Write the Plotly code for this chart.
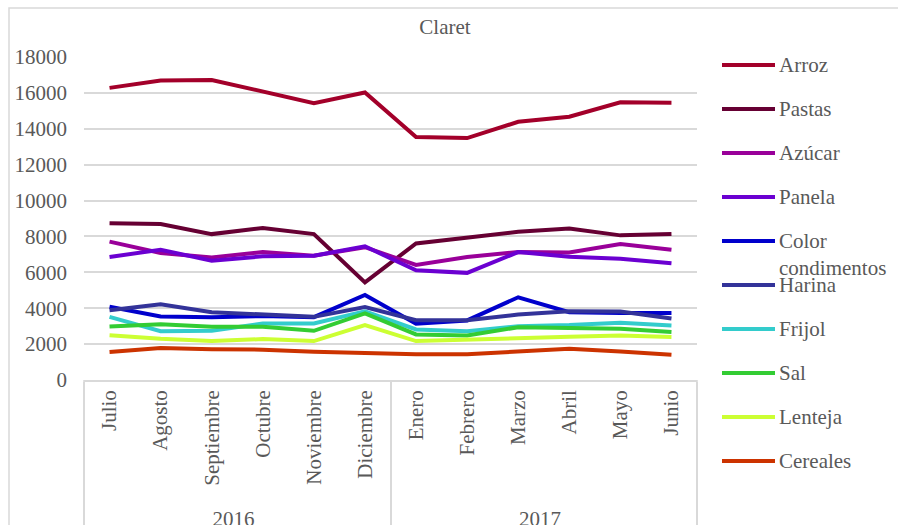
import plotly.graph_objects as go

# Months (Julio 2016 - Junio 2017)
months = ["Julio", "Agosto", "Septiembre", "Octubre", "Noviembre", "Diciembre",
          "Enero", "Febrero", "Marzo", "Abril", "Mayo", "Junio"]
years = ["2016"] * 6 + ["2017"] * 6

arroz = [16280, 16690, 16720, 16060, 15430, 16020, 13540, 13480, 14390, 14670, 15480, 15450]
pastas = [8740, 8690, 8130, 8470, 8130, 5440, 7610, 7930, 8260, 8440, 8060, 8130]
azucar = [7710, 7080, 6830, 7130, 6930, 7400, 6410, 6860, 7130, 7110, 7580, 7260]
panela = [6860, 7260, 6650, 6890, 6930, 7450, 6110, 5970, 7130, 6870, 6760, 6500]
color_condimentos = [4080, 3540, 3500, 3560, 3500, 4740, 3130, 3320, 4610, 3780, 3740, 3740]
harina = [3890, 4220, 3780, 3650, 3520, 4060, 3330, 3330, 3650, 3830, 3820, 3430]
frijol = [3520, 2720, 2740, 3150, 3150, 3830, 2820, 2720, 3000, 3060, 3190, 3040]
sal = [2980, 3110, 2970, 2970, 2740, 3710, 2540, 2480, 2940, 2910, 2860, 2670]
lenteja = [2500, 2300, 2170, 2280, 2170, 3060, 2170, 2260, 2360, 2410, 2480, 2390]
cereales = [1560, 1780, 1710, 1690, 1580, 1480, 1430, 1430, 1610, 1740, 1590, 1410]

series_names = ["Arroz", "Pastas", "Azúcar", "Panela", "Color condimentos",
                "Harina", "Frijol", "Sal", "Lenteja", "Cereales"]
series_values = [arroz, pastas, azucar, panela, color_condimentos,
                 harina, frijol, sal, lenteja, cereales]
series_colors = ["#A3002A", "#660033", "#990099", "#6B00D1", "#0000CC",
                 "#333399", "#33CCCC", "#33CC33", "#CCFF33", "#CC3300"]

FONT = "Liberation Serif, Times New Roman, serif"
GREY = "#595959"
GRID = "#D9D9D9"

W, H = 898, 525
L, R, T, B = 84, 201, 57, 145
plot_w = W - L - R
plot_h = H - T - B


def px_x(x):
    return (x - L) / plot_w


def px_y(y):
    return (H - B - y) / plot_h


fig = go.Figure()
for name, vals, col in zip(series_names, series_values, series_colors):
    fig.add_trace(go.Scatter(
        x=[years, months], y=vals, name=name, mode="lines",
        line=dict(color=col, width=4), showlegend=False,
    ))

# Legend at the right: short line sample plus label per series
legend_top = 65
legend_step = 44
for i, (name, col) in enumerate(zip(series_names, series_colors)):
    ypx = legend_top + i * legend_step
    fig.add_shape(type="line", xref="paper", yref="paper",
                  x0=px_x(722), x1=px_x(775), y0=px_y(ypx), y1=px_y(ypx),
                  line=dict(color=col, width=4))
    for j, part in enumerate(name.split(" ")):
        fig.add_annotation(xref="paper", yref="paper",
                           x=px_x(777), y=px_y(ypx + 27 * j),
                           xanchor="left", yanchor="middle", align="left",
                           text=part, showarrow=False,
                           font=dict(family=FONT, size=21, color=GREY))

# Chart border (top and left edges visible)
fig.add_shape(type="rect", xref="paper", yref="paper",
              x0=px_x(9), x1=px_x(910), y0=px_y(540), y1=px_y(8),
              line=dict(color=GRID, width=1.5), layer="below")

# Outer edges of the category box below the axis
for xe in (0, 1):
    fig.add_shape(type="line", xref="paper", yref="paper",
                  x0=xe, x1=xe, y0=0, y1=px_y(540),
                  line=dict(color=GRID, width=1.5), layer="below")

fig.update_layout(
    width=W, height=H,
    margin=dict(l=L, r=R, t=T, b=B, autoexpand=False),
    paper_bgcolor="white", plot_bgcolor="white",
    font=dict(family=FONT, size=21, color=GREY),
    title=dict(text="Claret", x=445 / W, xanchor="center", xref="container",
               y=1 - 27 / H, yanchor="middle", yref="container",
               font=dict(family=FONT, size=21, color=GREY)),
    showlegend=False,
)
fig.update_xaxes(
    type="multicategory", range=[-0.5, 11.5], tickangle=-90,
    showline=True, linecolor=GRID, linewidth=1.5,
    showgrid=False, showdividers=True, dividercolor=GRID, dividerwidth=1.5,
    tickfont=dict(family=FONT, size=21, color=GREY), automargin=False, ticks="",
)
fig.update_yaxes(
    range=[0, 18000], dtick=2000, tickformat="d", showgrid=True, gridcolor=GRID,
    gridwidth=1.5, zeroline=False, showline=False, ticks="", ticklabelstandoff=16,
    tickfont=dict(family=FONT, size=21, color=GREY), automargin=False,
)

fig.write_html("out.html")
